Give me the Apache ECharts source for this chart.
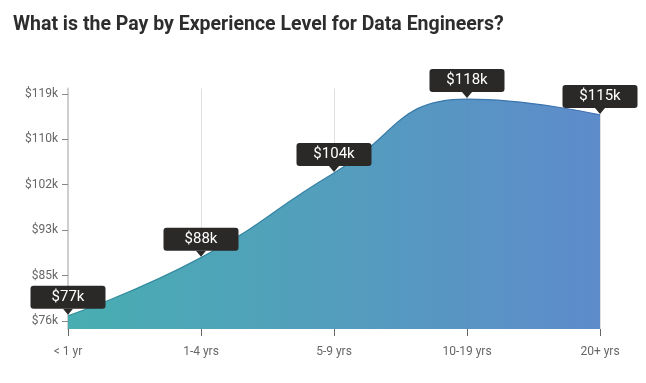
<!DOCTYPE html>
<html>
<head>
<meta charset="utf-8">
<script src="https://cdn.jsdelivr.net/npm/echarts@6/dist/echarts.min.js"></script>
<style>
html,body{margin:0;padding:0;background:#fff;}
#chart{width:646px;height:383px;}
</style>
</head>
<body>
<div id="chart"></div>
<script>
const categories = ['< 1 yr', '1-4 yrs', '5-9 yrs', '10-19 yrs', '20+ yrs'];
const payValues = [77, 88, 104, 118, 115];
const yTickValues = [76, 84.6, 93.2, 101.8, 110.4, 119];
const yTickLabels = ['$76k', '$85k', '$93k', '$102k', '$110k', '$119k'];
const titleText = 'What is the Pay by Experience Level for Data Engineers?';

const chart = echarts.init(document.getElementById('chart'), null, {renderer: 'canvas'});
const FONT = 'Roboto, "Noto Sans", sans-serif';

chart.setOption({
  animation: false,
  title: {
    text: titleText,
    left: 8, top: 10,
    textStyle: {fontFamily: FONT, fontSize: 19.5, fontWeight: 'bold', color: '#2d2d2d'}
  },
  grid: {left: 68, right: 46, top: 88.5, bottom: 54, containLabel: false},
  xAxis: {
    type: 'category',
    data: categories,
    boundaryGap: false,
    axisLine: {show: false},
    axisTick: {show: true, length: 7, lineStyle: {color: '#666'}},
    axisLabel: {fontFamily: FONT, fontSize: 12, color: '#666', margin: 17},
    splitLine: {show: true, lineStyle: {color: '#e0e0e0', width: 1}}
  },
  yAxis: {
    type: 'value',
    min: 74.5, max: 120,
    axisLine: {show: true, lineStyle: {color: '#cfcfcf', width: 2}},
    axisTick: {show: true, length: 6, lineStyle: {color: '#888'}, customValues: yTickValues},
    axisLabel: {
      fontFamily: FONT, fontSize: 12, color: '#666', margin: 10,
      customValues: yTickValues,
      formatter: function (v) {
        const i = yTickValues.indexOf(v);
        return i >= 0 ? yTickLabels[i] : '';
      }
    },
    splitLine: {show: false}
  },
  series: [
    {
      type: 'line',
      data: payValues,
      smooth: true,
      showSymbol: false,
      symbol: 'none',
      z: 2,
      lineStyle: {
        width: 1.2,
        color: new echarts.graphic.LinearGradient(0, 0, 1, 0, [
          {offset: 0, color: '#2f8f99'},
          {offset: 1, color: '#3f6fb3'}
        ])
      },
      areaStyle: {
        opacity: 0.95,
        color: new echarts.graphic.LinearGradient(0, 0, 1, 0, [
          {offset: 0, color: '#3ea9ad'},
          {offset: 0.5, color: '#4a98b9'},
          {offset: 1, color: '#5585c8'}
        ])
      }
    },
    {
      type: 'scatter',
      data: payValues,
      symbol: 'triangle',
      symbolRotate: 180,
      symbolSize: [10, 6],
      symbolOffset: [0, -4],
      z: 5,
      itemStyle: {color: '#2b2828', opacity: 1},
      emphasis: {disabled: true},
      label: {
        show: true,
        position: 'top',
        distance: 0,
        formatter: function (p) { return '$' + p.value + 'k'; },
        fontFamily: FONT,
        fontSize: 15,
        color: '#ffffff',
        backgroundColor: '#2b2828',
        borderRadius: 3,
        width: 75,
        align: 'center',
        lineHeight: 15,
        padding: [4, 0, 4, 0]
      }
    }
  ]
});
</script>
</body>
</html>
